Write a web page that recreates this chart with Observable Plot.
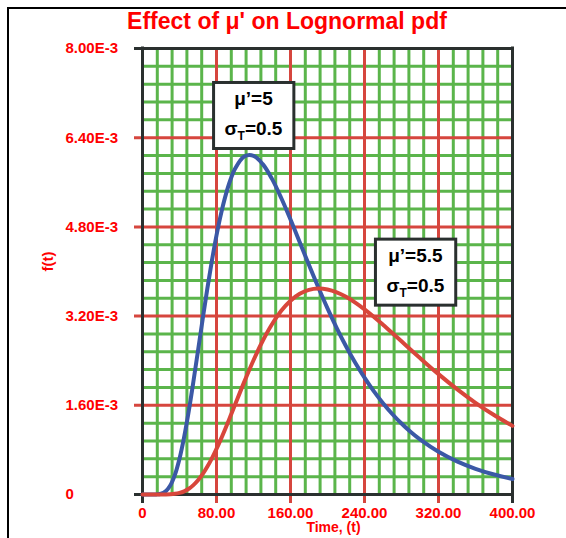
<!DOCTYPE html>
<html><head><meta charset="utf-8">
<script src="https://cdn.jsdelivr.net/npm/d3@7"></script>
<script src="https://cdn.jsdelivr.net/npm/@observablehq/plot@0.6"></script>
<style>
body{margin:0;background:#fff;width:566px;height:538px;overflow:hidden;position:relative;font-family:"Liberation Sans",Arial,sans-serif;}
#border{position:absolute;left:7px;top:7px;width:700px;height:700px;border-left:2px solid #000;border-top:2px solid #000;}
#title{position:absolute;left:0;width:574px;top:10px;line-height:1;text-align:center;color:#ff0000;font-weight:bold;font-size:23px;white-space:nowrap;}
#chart{position:absolute;left:0;top:0;}
</style></head><body>
<div id="border"></div><div id="chart"></div><div id="title">Effect of μ' on Lognormal pdf</div>
<script>
// ---- data (f values in units of 1E-3) ----
const tValues = [0,10,15,20,25,30,35,40,45,50,55,60,65,70,75,80,85,90,95,100,110,120,130,140,150,160,170,180,190,200,210,220,230,240,250,260,270,280,290,300,320,340,360,380,400];
const fMu5 = [0,0.00004,0.0015,0.0129,0.056,0.160,0.351,0.641,1.028,1.495,2.022,2.579,3.140,3.684,4.190,4.647,5.043,5.375,5.641,5.841,6.063,6.075,5.926,5.661,5.318,4.931,4.524,4.115,3.717,3.339,2.986,2.660,2.363,2.095,1.853,1.637,1.444,1.273,1.121,0.988,0.766,0.594,0.461,0.358,0.279];
const fMu55 = [0,0,0,0.0001,0.001,0.004,0.0118,0.0283,0.0574,0.103,0.1685,0.256,0.365,0.497,0.649,0.819,1.003,1.199,1.402,1.608,2.020,2.409,2.758,3.055,3.295,3.476,3.600,3.671,3.695,3.678,3.626,3.546,3.443,3.322,3.189,3.046,2.898,2.748,2.597,2.448,2.159,1.890,1.645,1.425,1.231];
const xTicks = [0,80,160,240,320,400];
const xTickLabels = ["0","80.00","160.00","240.00","320.00","400.00"];
const yTicks = [0,1.6,3.2,4.8,6.4,8];
const yTickLabels = ["0","1.60E-3","3.20E-3","4.80E-3","6.40E-3","8.00E-3"];
const annoLabels = ["μ’=5\nσT=0.5","μ’=5.5\nσT=0.5"];
const annoT = [120,295];
const annoF = [6.89,4.08];

const GREEN="#5bb54b", RED="#d6463e", DARK="#2a302f", BLUE="#3b58a6", LRED="#d8463b", TXT="#ff0000";
const minorX = d3.range(16,400,16).filter(v=>v%80!==0);
const minorY = d3.range(1,25).filter(i=>i%5!==0).map(i=>i*0.32);
const majorX = xTicks.slice(1,-1), majorY = yTicks.slice(1,-1);
const series = tValues.map((t,i)=>({t, a:fMu5[i], b:fMu55[i]}));
const annos = annoLabels.map((s,i)=>({s, t:annoT[i], f:annoF[i]}));

const chart = Plot.plot({
  width:566, height:538,
  marginLeft:142, marginRight:54, marginTop:48, marginBottom:44,
  x:{domain:[0,400], axis:null},
  y:{domain:[0,8], axis:null},
  style:{fontFamily:"'Liberation Sans', Arial, sans-serif", background:"transparent"},
  marks:[
    Plot.ruleX(minorX,{stroke:GREEN,strokeWidth:3}),
    Plot.ruleY(minorY,{stroke:GREEN,strokeWidth:3}),
    Plot.ruleX(majorX,{stroke:RED,strokeWidth:3,insetBottom:-9}),
    Plot.ruleY(majorY,{stroke:RED,strokeWidth:3,insetLeft:-8}),
    Plot.ruleX([0,400],{stroke:DARK,strokeWidth:3,insetBottom:-9,insetTop:-1.5}),
    Plot.ruleY([0,8],{stroke:DARK,strokeWidth:3,insetLeft:-8,insetRight:-1.5}),
    Plot.line(series,{x:"t",y:"a",stroke:BLUE,strokeWidth:4,curve:"catmull-rom"}),
    Plot.line(series,{x:"t",y:"b",stroke:LRED,strokeWidth:4,curve:"catmull-rom"}),
    Plot.text(annos,{x:"t",y:"f",text:"s",fontSize:19,fontWeight:"bold",lineHeight:1.58,fill:"#000"}),
    Plot.text(yTicks,{y:d=>d,frameAnchor:"left",dx:-77,textAnchor:"start",text:(d,i)=>yTickLabels[i],fill:TXT,fontSize:15,fontWeight:"bold"}),
    Plot.text(xTicks,{x:d=>d,frameAnchor:"bottom",dy:23,text:(d,i)=>xTickLabels[i],fill:TXT,fontSize:15,fontWeight:"bold"}),
    Plot.text(["f(t)"],{frameAnchor:"left",dx:-94,rotate:-90,text:d=>d,fill:TXT,fontSize:15,fontWeight:"bold"}),
    Plot.text(["Time, (t)"],{frameAnchor:"bottom",dx:6,dy:37,text:d=>d,fill:TXT,fontSize:14,fontWeight:"bold"})
  ]
});
document.getElementById("chart").appendChild(chart);

// annotation boxes and subscripts
const svg = d3.select(chart);
svg.selectAll("text").each(function(){
  const txt = this;
  const lines = d3.select(txt).selectAll("tspan").nodes();
  const sig = lines.find(n=>n.textContent.startsWith("σT"));
  if(!sig) return;
  const rest = sig.textContent.slice(2);
  sig.textContent = "";
  d3.select(sig).append("tspan").text("σ");
  d3.select(sig).append("tspan").attr("font-size",12).attr("dy",5).text("T");
  d3.select(sig).append("tspan").attr("dy",-5).text(rest);
  const bb = txt.getBBox();
  const padX = 11, padY = 5.5;
  const tr = txt.getAttribute("transform");
  const r = document.createElementNS("http://www.w3.org/2000/svg","rect");
  r.setAttribute("x", bb.x-padX); r.setAttribute("y", bb.y-padY);
  r.setAttribute("width", bb.width+2*padX); r.setAttribute("height", bb.height+2*padY);
  r.setAttribute("fill","#fff"); r.setAttribute("stroke",DARK); r.setAttribute("stroke-width",3);
  if(tr) r.setAttribute("transform", tr);
  txt.parentNode.insertBefore(r, txt);
});
</script>
</body></html>
